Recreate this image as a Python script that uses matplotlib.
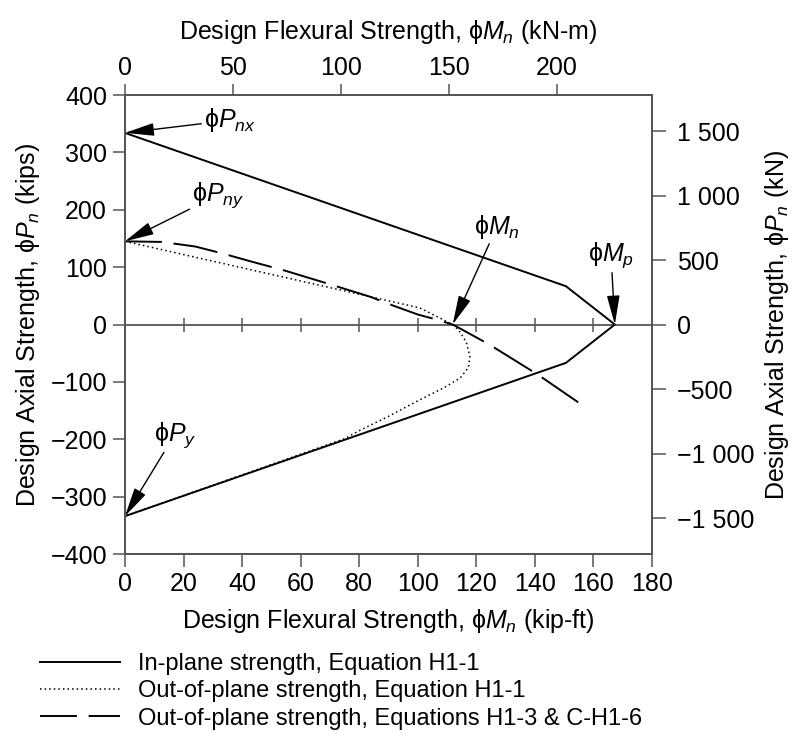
import numpy as np
import matplotlib
matplotlib.use("Agg")
import matplotlib.pyplot as plt

plt.rcParams.update({"font.family": ["Liberation Sans", "DejaVu Sans"], "font.size": 18,
                     "mathtext.fontset": "custom", "mathtext.rm": "Liberation Sans",
                     "mathtext.it": "Liberation Sans:italic"})

# in-plane strength, Eq. H1-1 (kip-ft, kips)
inplane_m = [0, 150.6, 167.3, 150.6, 0]
inplane_p = [334, 66.8, 0, -66.8, -334]
# out-of-plane strength, Eq. H1-1
oop_m = [0, 100.7, 111.9, 114.0, 116.5, 117.8, 117.3, 114.5, 109.0, 100.0, 90.0, 80.0, 75.0, 0]
oop_p = [145, 29.0, 0, -10, -30, -55, -75, -93, -110, -133, -160, -185, -199, -334]
# out-of-plane strength, Eqs. H1-3 & C-H1-6
h13_m = [0, 12.5, 24.0, 33.2, 43.0, 54.6, 68.5, 83.7, 91.7, 100.0, 107.0, 111.9,
         115.0, 124.7, 141.2, 154.8]
h13_p = [145, 144, 136, 124, 110, 94, 72.5, 48.5, 32.8, 17.5, 7.8, 0,
         -8.4, -35.7, -88, -135.6]

xticks = [0, 20, 40, 60, 80, 100, 120, 140, 160, 180]
yticks = [-400, -300, -200, -100, 0, 100, 200, 300, 400]
kn_ticks = [-1500, -1000, -500, 0, 500, 1000, 1500]
kn_labels = ["\u22121 500", "\u22121 000", "\u2212500", "0", "500", "1 000", "1 500"]
knm_ticks = [0, 50, 100, 150, 200]
KIPFT_TO_KNM, KIP_TO_KN = 1.35582, 4.44822

GR = "#555555"
fig = plt.figure(figsize=(7.94, 7.39), dpi=100)
ax = fig.add_axes([0.1574, 0.2503, 0.6638, 0.6211])
ax.plot(inplane_m, inplane_p, color="black", lw=1.4, label="In-plane strength, Equation H1-1")
ax.plot(oop_m, oop_p, color="black", lw=1.1, ls=(0, (1, 2)), label="Out-of-plane strength, Equation H1-1")
ax.plot(h13_m, h13_p, color="black", lw=1.4, ls=(4, (23, 6)),
        label="Out-of-plane strength, Equations H1-3 & C-H1-6")
ax.axhline(0, color=GR, lw=1.3, zorder=1)
ax.plot(xticks[1:-1], [0] * (len(xticks) - 2), ls="none", marker="|", ms=9.5, mew=1.1, color=GR, zorder=1)

ax.set_xlim(0, 180); ax.set_ylim(-400, 400)
ax.set_xticks(xticks); ax.set_yticks(yticks)
ax.set_yticklabels([str(v).replace("-", "\u2212") for v in yticks])
ax.set_xlabel("Design Flexural Strength, \u03d5$M_n$ (kip-ft)", labelpad=8)
ax.set_ylabel("Design Axial Strength, \u03d5$P_n$ (kips)", labelpad=6)
for s in ax.spines.values():
    s.set_color(GR); s.set_linewidth(1.3)
ax.tick_params(direction="out", length=9, width=1.1, color=GR, pad=4)

axr = ax.twinx()
axr.set_ylim(-400 * KIP_TO_KN, 400 * KIP_TO_KN)
axr.set_yticks(kn_ticks); axr.set_yticklabels(kn_labels)
axr.set_ylabel("Design Axial Strength, \u03d5$P_n$ (kN)", labelpad=6)
axr.tick_params(direction="out", length=10, width=1.1, color=GR, pad=8)
axt = ax.twiny()
axt.set_xlim(0, 180 * KIPFT_TO_KNM)
axt.set_xticks(knm_ticks)
axt.set_xlabel("Design Flexural Strength, \u03d5$M_n$ (kN-m)", labelpad=12)
axt.tick_params(direction="out", length=8, width=1.1, color=GR, pad=3)
for a in [axr, axt]:
    for s in a.spines.values():
        s.set_color(GR); s.set_linewidth(1.3)

arw = dict(arrowstyle="-|>,head_length=1.0,head_width=0.22", color="black", lw=1.0, shrinkA=0, shrinkB=0)
ax.annotate("\u03d5$P_{nx}$", xy=(0, 334), xytext=(27, 356), va="center", ha="left", arrowprops=arw)
ax.annotate("\u03d5$P_{ny}$", xy=(0, 145), xytext=(23, 226), va="center", ha="left", arrowprops=arw)
ax.annotate("\u03d5$M_n$", xy=(111.9, 0), xytext=(127, 170), va="center", ha="center", arrowprops=arw)
ax.annotate("\u03d5$M_p$", xy=(167.3, 0), xytext=(166, 121), va="center", ha="center", arrowprops=arw)
ax.annotate("\u03d5$P_y$", xy=(0, -334), xytext=(17, -192), va="center", ha="center", arrowprops=arw)

fig.legend(handles=ax.get_lines()[:3], loc="upper left", bbox_to_anchor=(0.05, 0.116),
           frameon=False, handlelength=3.4, handletextpad=0.75, labelspacing=0.22, fontsize=17,
           borderaxespad=0, borderpad=0)
fig.savefig("out.png", dpi=100)
